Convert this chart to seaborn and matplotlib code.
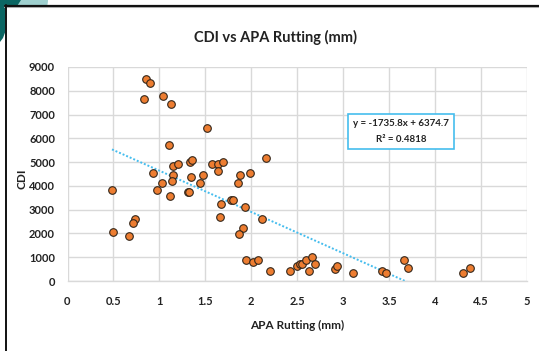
import matplotlib
matplotlib.use("Agg")
import matplotlib.pyplot as plt
from matplotlib.patches import Rectangle, Circle, Polygon
from matplotlib.lines import Line2D
import numpy as np
import pandas as pd
import seaborn as sns

# APA rutting depth (mm) and matching CDI values
rutting_mm = [0.857, 0.893, 0.832, 1.04, 1.13, 1.52, 1.107, 2.158, 0.933, 1.15,
              1.197, 1.143, 1.136, 1.03, 0.973, 1.114, 0.484, 1.332, 1.353, 1.342,
              1.31, 1.324, 1.473, 1.44, 1.571, 1.64, 1.69, 1.636, 1.878, 1.85,
              1.987, 1.672, 1.774, 1.80, 1.66, 1.93, 2.114, 1.908, 1.87, 0.73,
              0.712, 0.491, 0.668, 1.944, 2.02, 2.078, 2.20, 2.418, 2.495, 2.527,
              2.549, 2.60, 2.658, 2.632, 2.697, 2.911, 2.929, 3.11, 3.418, 3.47,
              3.66, 3.71, 4.306, 4.38]
cdi = [8510, 8310, 7670, 7780, 7440, 6440, 5700, 5180, 4540, 4850,
       4920, 4470, 4190, 4120, 3840, 3590, 3840, 5010, 5090, 4380,
       3760, 3760, 4470, 4110, 4920, 4920, 5020, 4640, 4470, 4120,
       4540, 3240, 3400, 3400, 2700, 3130, 2590, 2240, 1970, 2600,
       2430, 2060, 1900, 890, 800, 900, 440, 440, 630, 700,
       720, 890, 1000, 440, 720, 520, 650, 350, 440, 350,
       900, 540, 350, 540]

# Linear trendline coefficients and fit statistic
slope = -1735.8
intercept = 6374.7
r_squared = 0.4818

x_ticks = [0, 0.5, 1, 1.5, 2, 2.5, 3, 3.5, 4, 4.5, 5]
x_tick_labels = ["0", "0.5", "1", "1.5", "2", "2.5", "3", "3.5", "4", "4.5", "5"]
y_ticks = [0, 1000, 2000, 3000, 4000, 5000, 6000, 7000, 8000, 9000]

sns.set_theme(style="white")
plt.rcParams["font.family"] = ["Lato", "DejaVu Sans"]

W, H = 539, 351
fig = plt.figure(figsize=(W / 100, H / 100), dpi=100)
fig.patch.set_facecolor("white")


def px(x, y):
    return (x / W, 1 - y / H)


# Slide decoration in the top-left corner
fig.add_artist(Circle(px(0, 0), 48 / W, transform=fig.transFigure,
                      facecolor="#9fd0cf", edgecolor="none", zorder=0))
fig.add_artist(Polygon([px(0, 0), px(21, 0), px(12, 14), px(3, 38), px(0, 42)],
                       closed=True, transform=fig.transFigure,
                       facecolor="#0b6663", edgecolor="none", zorder=0.1))
# White chart panel with its frame
fig.add_artist(Rectangle(px(5, H), (W - 5) / W, (H - 5) / H, transform=fig.transFigure,
                         facecolor="white", edgecolor="none", zorder=0.2))
fig.add_artist(Line2D([5 / W, 1], [1 - 7 / H, 1 - 7 / H], transform=fig.transFigure,
                      color="#bdbdbd", lw=1.5, zorder=0.3))
fig.add_artist(Line2D([5 / W, 1], [1 - 5.5 / H, 1 - 5.5 / H], transform=fig.transFigure,
                      color="#111111", lw=1.6, zorder=0.4))
fig.add_artist(Line2D([5.5 / W, 5.5 / W], [0, 1 - 5 / H], transform=fig.transFigure,
                      color="#111111", lw=1.4, zorder=0.4))

ax = fig.add_axes([67.5 / W, 1 - 281 / H, (527 - 67.5) / W, (281 - 67) / H])
ax.set_zorder(2)
ax.set_facecolor("none")

df = pd.DataFrame({"APA Rutting (mm)": rutting_mm, "CDI": cdi})

# Trendline across the data range
xs = np.array([min(rutting_mm), max(rutting_mm)])
ax.plot(xs, slope * xs + intercept, linestyle=(0, (1, 1)), color="#45bdee",
        lw=1.4, zorder=2, clip_on=True)

sns.scatterplot(data=df, x="APA Rutting (mm)", y="CDI", ax=ax,
                color="#ed7d31", edgecolor="#33261a", linewidth=0.8,
                s=30, zorder=3, clip_on=False)

ax.set_xlim(0, 5)
ax.set_ylim(0, 9000)
ax.set_xticks(x_ticks)
ax.set_xticklabels(x_tick_labels)
ax.set_yticks(y_ticks)
ax.grid(True, color="#d9d9d9", lw=1.0)
ax.set_axisbelow(True)
for side in ["top", "right", "left"]:
    ax.spines[side].set_visible(False)
ax.spines["bottom"].set_color("#d9d9d9")
ax.spines["bottom"].set_linewidth(1.0)
ax.tick_params(axis="both", length=0, labelsize=8, colors="#222222")
ax.tick_params(axis="x", pad=11)
ax.tick_params(axis="y", pad=9)
for lbl in ax.get_xticklabels() + ax.get_yticklabels():
    lbl.set_fontweight("bold")

ax.set_xlabel("APA Rutting (mm)", fontsize=8.5, fontweight="bold", color="#222222",
              labelpad=9)
ax.set_ylabel("CDI", fontsize=8.5, fontweight="bold", color="#222222")
ax.yaxis.set_label_coords((27 - 67.5) / (527 - 67.5), 0.48)

fig.text(275 / W, 1 - 37 / H, "CDI vs APA Rutting (mm)", ha="center", va="center",
         fontsize=10.5, fontweight="bold", color="#222222")

# Trendline equation box
ax.text(401 / W, 1 - 131.5 / H,
        f"y = {slope:.1f}x + {intercept:.1f}\nR² = {r_squared:.4f}",
        transform=fig.transFigure, ha="center", va="center", fontsize=7,
        fontweight="bold", color="#222222", linespacing=2.0, zorder=5,
        bbox=dict(boxstyle="square,pad=0.55", facecolor="white",
                  edgecolor="#45bdee", lw=1.2))

fig.savefig("out.png", dpi=100)
